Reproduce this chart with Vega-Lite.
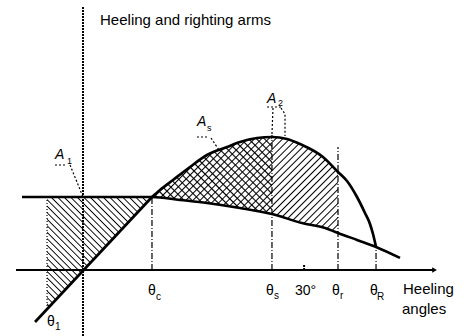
{
"$schema":"https://vega.github.io/schema/vega-lite/v6.json",
"width":470,"height":336,"autosize":{"type":"none"},"padding":0,"background":"white",
"config":{"view":{"stroke":null}},
"datasets":{
"band":[{"x":9.36,"r":0.73,"h":0.73},{"x":10.45,"r":0.80,"h":0.72},{"x":12.21,"r":0.90,"h":0.707},{"x":14.52,"r":1.03,"h":0.689},{"x":16.82,"r":1.15,"h":0.67},{"x":19.54,"r":1.23,"h":0.64},{"x":21.30,"r":1.28,"h":0.62},{"x":23.61,"r":1.32,"h":0.588},{"x":25.64,"r":1.33,"h":0.56},{"x":27.68,"r":1.31,"h":0.515},{"x":29.44,"r":1.26,"h":0.476},{"x":32.56,"r":1.13,"h":0.425},{"x":34.60,"r":0.98,"h":0.37}],
"a1":[{"x":-4.88,"top":0.73,"bot":-0.392},{"x":9.36,"top":0.73,"bot":0.73}],
"righting":[{"part":"line","x":-6.51,"y":-0.52},{"part":"line","x":9.36,"y":0.73},{"part":"curve","x":9.36,"y":0.73},{"part":"curve","x":10.45,"y":0.80},{"part":"curve","x":12.21,"y":0.90},{"part":"curve","x":14.52,"y":1.03},{"part":"curve","x":16.82,"y":1.15},{"part":"curve","x":19.54,"y":1.23},{"part":"curve","x":21.30,"y":1.28},{"part":"curve","x":23.61,"y":1.32},{"part":"curve","x":25.64,"y":1.33},{"part":"curve","x":27.68,"y":1.31},{"part":"curve","x":29.44,"y":1.26},{"part":"curve","x":32.56,"y":1.13},{"part":"curve","x":34.60,"y":0.98},{"part":"curve","x":35.82,"y":0.89},{"part":"curve","x":37.18,"y":0.73},{"part":"curve","x":38.26,"y":0.57},{"part":"curve","x":38.94,"y":0.46},{"part":"curve","x":39.35,"y":0.36},{"part":"curve","x":39.76,"y":0.23}],
"heeling":[{"x":-8.28,"y":0.73},{"x":9.36,"y":0.73},{"x":13.16,"y":0.70},{"x":16.82,"y":0.67},{"x":21.30,"y":0.62},{"x":25.64,"y":0.56},{"x":29.72,"y":0.47},{"x":32.84,"y":0.42},{"x":34.60,"y":0.37},{"x":37.18,"y":0.30},{"x":39.76,"y":0.23},{"x":43.01,"y":0.12}],
"refs":[{"x":9.36,"y":0,"y2":0.73},{"x":25.64,"y":0,"y2":1.35},{"x":34.60,"y":0,"y2":1.23},{"x":39.76,"y":0,"y2":0.23}],
"leaders":[{"id":"u1","x":-3.80,"y":1.05},{"id":"u1","x":-2.17,"y":1.05},{"id":"l1","x":-1.76,"y":1.05},{"id":"l1","x":0,"y":0.73},{"id":"us","x":15.47,"y":1.33},{"id":"us","x":16.96,"y":1.33},{"id":"ls","x":17.37,"y":1.32},{"id":"ls","x":18.45,"y":1.20},{"id":"u2","x":24.97,"y":1.63},{"id":"u2","x":27.14,"y":1.63},{"id":"la","x":25.78,"y":1.62},{"id":"la","x":25.64,"y":1.36},{"id":"lb","x":26.87,"y":1.62},{"id":"lb","x":27.41,"y":1.56},{"id":"lb","x":27.41,"y":1.34}],
"mains":[{"x":8.82,"y":-0.25,"t":"θ"},{"x":24.83,"y":-0.25,"t":"θ"},{"x":28.77,"y":-0.25,"t":"30°"},{"x":33.79,"y":-0.25,"t":"θ"},{"x":38.94,"y":-0.25,"t":"θ"},{"x":-4.88,"y":-0.56,"t":"θ"}],
"subs":[{"x":9.91,"y":-0.30,"t":"c"},{"x":25.92,"y":-0.29,"t":"s"},{"x":34.87,"y":-0.29,"t":"r"},{"x":39.89,"y":-0.30,"t":"R"},{"x":-3.80,"y":-0.60,"t":"1"}],
"alabels":[{"x":-3.80,"y":1.11,"t":"A"},{"x":15.47,"y":1.44,"t":"A"},{"x":24.97,"y":1.67,"t":"A"}],
"asubs":[{"x":-2.17,"y":1.06,"t":"1"},{"x":16.82,"y":1.39,"t":"s"},{"x":26.46,"y":1.64,"t":"2"}],
"words":[{"x":2.31,"y":2.45,"t":"Heeling and righting arms"},{"x":43.42,"y":-0.24,"t":"Heeling"},{"x":43.28,"y":-0.44,"t":"angles"}]
},
"layer":[
{"data":{"name":"band"},
 "mark":{"type":"area","color":{"gradient":"linear","x1":0,"y1":0,"x2":1.197,"y2":0.618,"stops":[
{"offset":0,"color":"#fff"},{"offset":0.015,"color":"#fff"},{"offset":0.02,"color":"#000"},
{"offset":0.025,"color":"#fff"},{"offset":0.04,"color":"#fff"},{"offset":0.045,"color":"#000"},
{"offset":0.05,"color":"#fff"},{"offset":0.065,"color":"#fff"},{"offset":0.07,"color":"#000"},
{"offset":0.075,"color":"#fff"},{"offset":0.09,"color":"#fff"},{"offset":0.095,"color":"#000"},
{"offset":0.1,"color":"#fff"},{"offset":0.115,"color":"#fff"},{"offset":0.12,"color":"#000"},
{"offset":0.125,"color":"#fff"},{"offset":0.14,"color":"#fff"},{"offset":0.145,"color":"#000"},
{"offset":0.15,"color":"#fff"},{"offset":0.165,"color":"#fff"},{"offset":0.17,"color":"#000"},
{"offset":0.175,"color":"#fff"},{"offset":0.19,"color":"#fff"},{"offset":0.195,"color":"#000"},
{"offset":0.2,"color":"#fff"},{"offset":0.215,"color":"#fff"},{"offset":0.22,"color":"#000"},
{"offset":0.225,"color":"#fff"},{"offset":0.24,"color":"#fff"},{"offset":0.245,"color":"#000"},
{"offset":0.25,"color":"#fff"},{"offset":0.265,"color":"#fff"},{"offset":0.27,"color":"#000"},
{"offset":0.275,"color":"#fff"},{"offset":0.29,"color":"#fff"},{"offset":0.295,"color":"#000"},
{"offset":0.3,"color":"#fff"},{"offset":0.315,"color":"#fff"},{"offset":0.32,"color":"#000"},
{"offset":0.325,"color":"#fff"},{"offset":0.34,"color":"#fff"},{"offset":0.345,"color":"#000"},
{"offset":0.35,"color":"#fff"},{"offset":0.365,"color":"#fff"},{"offset":0.37,"color":"#000"},
{"offset":0.375,"color":"#fff"},{"offset":0.39,"color":"#fff"},{"offset":0.395,"color":"#000"},
{"offset":0.4,"color":"#fff"},{"offset":0.415,"color":"#fff"},{"offset":0.42,"color":"#000"},
{"offset":0.425,"color":"#fff"},{"offset":0.44,"color":"#fff"},{"offset":0.445,"color":"#000"},
{"offset":0.45,"color":"#fff"},{"offset":0.465,"color":"#fff"},{"offset":0.47,"color":"#000"},
{"offset":0.475,"color":"#fff"},{"offset":0.49,"color":"#fff"},{"offset":0.495,"color":"#000"},
{"offset":0.5,"color":"#fff"},{"offset":0.515,"color":"#fff"},{"offset":0.52,"color":"#000"},
{"offset":0.525,"color":"#fff"},{"offset":0.54,"color":"#fff"},{"offset":0.545,"color":"#000"},
{"offset":0.55,"color":"#fff"},{"offset":0.565,"color":"#fff"},{"offset":0.57,"color":"#000"},
{"offset":0.575,"color":"#fff"},{"offset":0.59,"color":"#fff"},{"offset":0.595,"color":"#000"},
{"offset":0.6,"color":"#fff"},{"offset":0.615,"color":"#fff"},{"offset":0.62,"color":"#000"},
{"offset":0.625,"color":"#fff"},{"offset":0.64,"color":"#fff"},{"offset":0.645,"color":"#000"},
{"offset":0.65,"color":"#fff"},{"offset":0.665,"color":"#fff"},{"offset":0.67,"color":"#000"},
{"offset":0.675,"color":"#fff"},{"offset":0.69,"color":"#fff"},{"offset":0.695,"color":"#000"},
{"offset":0.7,"color":"#fff"},{"offset":0.715,"color":"#fff"},{"offset":0.72,"color":"#000"},
{"offset":0.725,"color":"#fff"},{"offset":0.74,"color":"#fff"},{"offset":0.745,"color":"#000"},
{"offset":0.75,"color":"#fff"},{"offset":0.765,"color":"#fff"},{"offset":0.77,"color":"#000"},
{"offset":0.775,"color":"#fff"},{"offset":0.79,"color":"#fff"},{"offset":0.795,"color":"#000"},
{"offset":0.8,"color":"#fff"},{"offset":0.815,"color":"#fff"},{"offset":0.82,"color":"#000"},
{"offset":0.825,"color":"#fff"},{"offset":0.84,"color":"#fff"},{"offset":0.845,"color":"#000"},
{"offset":0.85,"color":"#fff"},{"offset":0.865,"color":"#fff"},{"offset":0.87,"color":"#000"},
{"offset":0.875,"color":"#fff"},{"offset":0.89,"color":"#fff"},{"offset":0.895,"color":"#000"},
{"offset":0.9,"color":"#fff"},{"offset":0.915,"color":"#fff"},{"offset":0.92,"color":"#000"},
{"offset":0.925,"color":"#fff"},{"offset":0.94,"color":"#fff"},{"offset":0.945,"color":"#000"},
{"offset":0.95,"color":"#fff"},{"offset":0.965,"color":"#fff"},{"offset":0.97,"color":"#000"},
{"offset":0.975,"color":"#fff"},{"offset":0.99,"color":"#fff"},{"offset":0.995,"color":"#000"},
{"offset":1,"color":"#fff"}]}},
 "encoding":{"x":{"field":"x","type":"quantitative","scale":{"domain":[-11.262,52.51],"nice":false,"zero":false},"axis":null},
  "y":{"field":"r","type":"quantitative","scale":{"domain":[-0.66,2.7],"nice":false,"zero":false},"axis":null},
  "y2":{"field":"h"}}},
{"data":{"name":"band"},"transform":[{"filter":{"field":"x","lte":25.7}}],
 "mark":{"type":"area","color":{"gradient":"linear","x1":0,"y1":1,"x2":1.163,"y2":0.253,"stops":[
{"offset":0,"color":"rgba(0,0,0,0)"},{"offset":0.024,"color":"rgba(0,0,0,0)"},{"offset":0.032,"color":"#000"},
{"offset":0.04,"color":"rgba(0,0,0,0)"},{"offset":0.064,"color":"rgba(0,0,0,0)"},{"offset":0.072,"color":"#000"},
{"offset":0.08,"color":"rgba(0,0,0,0)"},{"offset":0.104,"color":"rgba(0,0,0,0)"},{"offset":0.112,"color":"#000"},
{"offset":0.12,"color":"rgba(0,0,0,0)"},{"offset":0.144,"color":"rgba(0,0,0,0)"},{"offset":0.152,"color":"#000"},
{"offset":0.16,"color":"rgba(0,0,0,0)"},{"offset":0.184,"color":"rgba(0,0,0,0)"},{"offset":0.192,"color":"#000"},
{"offset":0.2,"color":"rgba(0,0,0,0)"},{"offset":0.224,"color":"rgba(0,0,0,0)"},{"offset":0.232,"color":"#000"},
{"offset":0.24,"color":"rgba(0,0,0,0)"},{"offset":0.264,"color":"rgba(0,0,0,0)"},{"offset":0.272,"color":"#000"},
{"offset":0.28,"color":"rgba(0,0,0,0)"},{"offset":0.304,"color":"rgba(0,0,0,0)"},{"offset":0.312,"color":"#000"},
{"offset":0.32,"color":"rgba(0,0,0,0)"},{"offset":0.344,"color":"rgba(0,0,0,0)"},{"offset":0.352,"color":"#000"},
{"offset":0.36,"color":"rgba(0,0,0,0)"},{"offset":0.384,"color":"rgba(0,0,0,0)"},{"offset":0.392,"color":"#000"},
{"offset":0.4,"color":"rgba(0,0,0,0)"},{"offset":0.424,"color":"rgba(0,0,0,0)"},{"offset":0.432,"color":"#000"},
{"offset":0.44,"color":"rgba(0,0,0,0)"},{"offset":0.464,"color":"rgba(0,0,0,0)"},{"offset":0.472,"color":"#000"},
{"offset":0.48,"color":"rgba(0,0,0,0)"},{"offset":0.504,"color":"rgba(0,0,0,0)"},{"offset":0.512,"color":"#000"},
{"offset":0.52,"color":"rgba(0,0,0,0)"},{"offset":0.544,"color":"rgba(0,0,0,0)"},{"offset":0.552,"color":"#000"},
{"offset":0.56,"color":"rgba(0,0,0,0)"},{"offset":0.584,"color":"rgba(0,0,0,0)"},{"offset":0.592,"color":"#000"},
{"offset":0.6,"color":"rgba(0,0,0,0)"},{"offset":0.624,"color":"rgba(0,0,0,0)"},{"offset":0.632,"color":"#000"},
{"offset":0.64,"color":"rgba(0,0,0,0)"},{"offset":0.664,"color":"rgba(0,0,0,0)"},{"offset":0.672,"color":"#000"},
{"offset":0.68,"color":"rgba(0,0,0,0)"},{"offset":0.704,"color":"rgba(0,0,0,0)"},{"offset":0.712,"color":"#000"},
{"offset":0.72,"color":"rgba(0,0,0,0)"},{"offset":0.744,"color":"rgba(0,0,0,0)"},{"offset":0.752,"color":"#000"},
{"offset":0.76,"color":"rgba(0,0,0,0)"},{"offset":0.784,"color":"rgba(0,0,0,0)"},{"offset":0.792,"color":"#000"},
{"offset":0.8,"color":"rgba(0,0,0,0)"},{"offset":0.824,"color":"rgba(0,0,0,0)"},{"offset":0.832,"color":"#000"},
{"offset":0.84,"color":"rgba(0,0,0,0)"},{"offset":0.864,"color":"rgba(0,0,0,0)"},{"offset":0.872,"color":"#000"},
{"offset":0.88,"color":"rgba(0,0,0,0)"},{"offset":0.904,"color":"rgba(0,0,0,0)"},{"offset":0.912,"color":"#000"},
{"offset":0.92,"color":"rgba(0,0,0,0)"},{"offset":0.944,"color":"rgba(0,0,0,0)"},{"offset":0.952,"color":"#000"},
{"offset":0.96,"color":"rgba(0,0,0,0)"},{"offset":0.984,"color":"rgba(0,0,0,0)"},{"offset":0.992,"color":"#000"},
{"offset":1,"color":"rgba(0,0,0,0)"}]}},
 "encoding":{"x":{"field":"x","type":"quantitative","scale":{"domain":[-11.262,52.51],"nice":false,"zero":false},"axis":null},
  "y":{"field":"r","type":"quantitative","scale":{"domain":[-0.66,2.7],"nice":false,"zero":false},"axis":null},
  "y2":{"field":"h"}}},
{"data":{"name":"a1"},
 "mark":{"type":"area","color":{"gradient":"linear","x1":0,"y1":1,"x2":0.967,"y2":-0.032,"stops":[
{"offset":0,"color":"#fff"},{"offset":0.018,"color":"#fff"},{"offset":0.024,"color":"#000"},
{"offset":0.03,"color":"#fff"},{"offset":0.048,"color":"#fff"},{"offset":0.054,"color":"#000"},
{"offset":0.06,"color":"#fff"},{"offset":0.078,"color":"#fff"},{"offset":0.084,"color":"#000"},
{"offset":0.09,"color":"#fff"},{"offset":0.108,"color":"#fff"},{"offset":0.114,"color":"#000"},
{"offset":0.12,"color":"#fff"},{"offset":0.138,"color":"#fff"},{"offset":0.144,"color":"#000"},
{"offset":0.15,"color":"#fff"},{"offset":0.168,"color":"#fff"},{"offset":0.174,"color":"#000"},
{"offset":0.18,"color":"#fff"},{"offset":0.198,"color":"#fff"},{"offset":0.204,"color":"#000"},
{"offset":0.21,"color":"#fff"},{"offset":0.228,"color":"#fff"},{"offset":0.234,"color":"#000"},
{"offset":0.24,"color":"#fff"},{"offset":0.258,"color":"#fff"},{"offset":0.264,"color":"#000"},
{"offset":0.27,"color":"#fff"},{"offset":0.288,"color":"#fff"},{"offset":0.294,"color":"#000"},
{"offset":0.3,"color":"#fff"},{"offset":0.318,"color":"#fff"},{"offset":0.324,"color":"#000"},
{"offset":0.33,"color":"#fff"},{"offset":0.348,"color":"#fff"},{"offset":0.354,"color":"#000"},
{"offset":0.36,"color":"#fff"},{"offset":0.378,"color":"#fff"},{"offset":0.384,"color":"#000"},
{"offset":0.39,"color":"#fff"},{"offset":0.408,"color":"#fff"},{"offset":0.414,"color":"#000"},
{"offset":0.42,"color":"#fff"},{"offset":0.438,"color":"#fff"},{"offset":0.444,"color":"#000"},
{"offset":0.45,"color":"#fff"},{"offset":0.468,"color":"#fff"},{"offset":0.474,"color":"#000"},
{"offset":0.48,"color":"#fff"},{"offset":0.498,"color":"#fff"},{"offset":0.504,"color":"#000"},
{"offset":0.51,"color":"#fff"},{"offset":0.528,"color":"#fff"},{"offset":0.534,"color":"#000"},
{"offset":0.54,"color":"#fff"},{"offset":0.558,"color":"#fff"},{"offset":0.564,"color":"#000"},
{"offset":0.57,"color":"#fff"},{"offset":0.588,"color":"#fff"},{"offset":0.594,"color":"#000"},
{"offset":0.6,"color":"#fff"},{"offset":0.618,"color":"#fff"},{"offset":0.624,"color":"#000"},
{"offset":0.63,"color":"#fff"},{"offset":0.648,"color":"#fff"},{"offset":0.654,"color":"#000"},
{"offset":0.66,"color":"#fff"},{"offset":0.678,"color":"#fff"},{"offset":0.684,"color":"#000"},
{"offset":0.69,"color":"#fff"},{"offset":0.708,"color":"#fff"},{"offset":0.714,"color":"#000"},
{"offset":0.72,"color":"#fff"},{"offset":0.738,"color":"#fff"},{"offset":0.744,"color":"#000"},
{"offset":0.75,"color":"#fff"},{"offset":0.768,"color":"#fff"},{"offset":0.774,"color":"#000"},
{"offset":0.78,"color":"#fff"},{"offset":0.798,"color":"#fff"},{"offset":0.804,"color":"#000"},
{"offset":0.81,"color":"#fff"},{"offset":0.828,"color":"#fff"},{"offset":0.834,"color":"#000"},
{"offset":0.84,"color":"#fff"},{"offset":0.858,"color":"#fff"},{"offset":0.864,"color":"#000"},
{"offset":0.87,"color":"#fff"},{"offset":0.888,"color":"#fff"},{"offset":0.894,"color":"#000"},
{"offset":0.9,"color":"#fff"},{"offset":0.918,"color":"#fff"},{"offset":0.924,"color":"#000"},
{"offset":0.93,"color":"#fff"},{"offset":0.948,"color":"#fff"},{"offset":0.954,"color":"#000"},
{"offset":0.96,"color":"#fff"},{"offset":0.978,"color":"#fff"},{"offset":0.984,"color":"#000"},
{"offset":0.99,"color":"#fff"},{"offset":1,"color":"#fff"}]}},
 "encoding":{"x":{"field":"x","type":"quantitative","scale":{"domain":[-11.262,52.51],"nice":false,"zero":false},"axis":null},
  "y":{"field":"top","type":"quantitative","scale":{"domain":[-0.66,2.7],"nice":false,"zero":false},"axis":null},
  "y2":{"field":"bot"}}},
{"data":{"name":"refs"},"mark":{"type":"rule","color":"#000","strokeWidth":1.2,"strokeDash":[6,2,1,2]},
 "encoding":{"x":{"field":"x","type":"quantitative","scale":{"domain":[-11.262,52.51],"nice":false,"zero":false},"axis":null},
  "y":{"field":"y","type":"quantitative","scale":{"domain":[-0.66,2.7],"nice":false,"zero":false},"axis":null},
  "y2":{"field":"y2"}}},
{"data":{"values":[{"x":-4.88,"y":-0.39,"y2":0.73}]},"mark":{"type":"rule","color":"#000","strokeWidth":1.2,"strokeDash":[1,2]},
 "encoding":{"x":{"field":"x","type":"quantitative","scale":{"domain":[-11.262,52.51],"nice":false,"zero":false},"axis":null},
  "y":{"field":"y","type":"quantitative","scale":{"domain":[-0.66,2.7],"nice":false,"zero":false},"axis":null},
  "y2":{"field":"y2"}}},
{"data":{"values":[{"x":0,"y":-0.66,"y2":2.63},{"x":30,"y":0,"y2":0.06}]},"mark":{"type":"rule","color":"#000","strokeWidth":2,"strokeDash":[2,1]},
 "encoding":{"x":{"field":"x","type":"quantitative","scale":{"domain":[-11.262,52.51],"nice":false,"zero":false},"axis":null},
  "y":{"field":"y","type":"quantitative","scale":{"domain":[-0.66,2.7],"nice":false,"zero":false},"axis":null},
  "y2":{"field":"y2"}}},
{"data":{"values":[{"x":-9.09,"x2":47.6,"y":0}]},"mark":{"type":"rule","color":"#000","strokeWidth":2},
 "encoding":{"x":{"field":"x","type":"quantitative","scale":{"domain":[-11.262,52.51],"nice":false,"zero":false},"axis":null},
  "x2":{"field":"x2"},
  "y":{"field":"y","type":"quantitative","scale":{"domain":[-0.66,2.7],"nice":false,"zero":false},"axis":null}}},
{"data":{"values":[{"x":47.7,"y":0}]},"mark":{"type":"point","shape":"triangle-right","filled":true,"color":"#000","size":30,"opacity":1},
 "encoding":{"x":{"field":"x","type":"quantitative","scale":{"domain":[-11.262,52.51],"nice":false,"zero":false},"axis":null},
  "y":{"field":"y","type":"quantitative","scale":{"domain":[-0.66,2.7],"nice":false,"zero":false},"axis":null}}},
{"data":{"name":"heeling"},"mark":{"type":"line","color":"#000","strokeWidth":2.5,"interpolate":"monotone"},
 "encoding":{"x":{"field":"x","type":"quantitative","scale":{"domain":[-11.262,52.51],"nice":false,"zero":false},"axis":null},
  "y":{"field":"y","type":"quantitative","scale":{"domain":[-0.66,2.7],"nice":false,"zero":false},"axis":null}}},
{"data":{"name":"righting"},"mark":{"type":"line","color":"#000","strokeWidth":2.7,"interpolate":"monotone"},
 "encoding":{"x":{"field":"x","type":"quantitative","scale":{"domain":[-11.262,52.51],"nice":false,"zero":false},"axis":null},
  "y":{"field":"y","type":"quantitative","scale":{"domain":[-0.66,2.7],"nice":false,"zero":false},"axis":null},
  "detail":{"field":"part"}}},
{"data":{"name":"leaders"},"mark":{"type":"line","color":"#000","strokeWidth":1.2,"strokeDash":[2,2]},
 "encoding":{"x":{"field":"x","type":"quantitative","scale":{"domain":[-11.262,52.51],"nice":false,"zero":false},"axis":null},
  "y":{"field":"y","type":"quantitative","scale":{"domain":[-0.66,2.7],"nice":false,"zero":false},"axis":null},
  "detail":{"field":"id"},"order":{"field":"y","sort":"descending"}}},
{"data":{"name":"mains"},"mark":{"type":"text","font":"Liberation Sans","fontSize":14,"align":"left","baseline":"alphabetic","color":"#000"},
 "encoding":{"x":{"field":"x","type":"quantitative","scale":{"domain":[-11.262,52.51],"nice":false,"zero":false},"axis":null},
  "y":{"field":"y","type":"quantitative","scale":{"domain":[-0.66,2.7],"nice":false,"zero":false},"axis":null},
  "text":{"field":"t"}}},
{"data":{"name":"subs"},"mark":{"type":"text","font":"Liberation Sans","fontSize":10,"align":"left","baseline":"alphabetic","color":"#000"},
 "encoding":{"x":{"field":"x","type":"quantitative","scale":{"domain":[-11.262,52.51],"nice":false,"zero":false},"axis":null},
  "y":{"field":"y","type":"quantitative","scale":{"domain":[-0.66,2.7],"nice":false,"zero":false},"axis":null},
  "text":{"field":"t"}}},
{"data":{"name":"alabels"},"mark":{"type":"text","font":"Liberation Sans","fontSize":14,"fontStyle":"italic","align":"left","baseline":"alphabetic","color":"#000"},
 "encoding":{"x":{"field":"x","type":"quantitative","scale":{"domain":[-11.262,52.51],"nice":false,"zero":false},"axis":null},
  "y":{"field":"y","type":"quantitative","scale":{"domain":[-0.66,2.7],"nice":false,"zero":false},"axis":null},
  "text":{"field":"t"}}},
{"data":{"name":"asubs"},"mark":{"type":"text","font":"Liberation Sans","fontSize":9,"align":"left","baseline":"alphabetic","color":"#000"},
 "encoding":{"x":{"field":"x","type":"quantitative","scale":{"domain":[-11.262,52.51],"nice":false,"zero":false},"axis":null},
  "y":{"field":"y","type":"quantitative","scale":{"domain":[-0.66,2.7],"nice":false,"zero":false},"axis":null},
  "text":{"field":"t"}}},
{"data":{"name":"words"},"mark":{"type":"text","font":"Liberation Sans","fontSize":15,"align":"left","baseline":"alphabetic","color":"#000"},
 "encoding":{"x":{"field":"x","type":"quantitative","scale":{"domain":[-11.262,52.51],"nice":false,"zero":false},"axis":null},
  "y":{"field":"y","type":"quantitative","scale":{"domain":[-0.66,2.7],"nice":false,"zero":false},"axis":null},
  "text":{"field":"t"}}}
]
}
